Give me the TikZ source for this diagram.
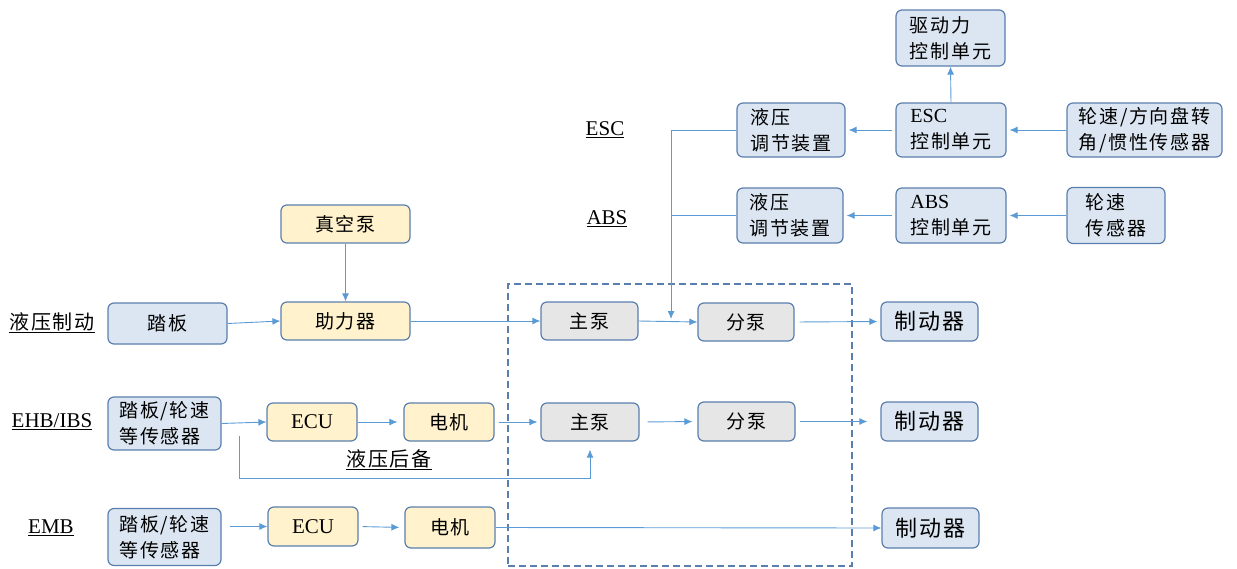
\documentclass[tikz,border=0pt]{standalone}
\usepackage{fontspec}
\setmainfont{Liberation Serif}
\newfontfamily\cjk[LetterSpace=9]{Noto Sans CJK SC}
\usetikzlibrary{arrows.meta}
\definecolor{bfill}{HTML}{DCE6F2}
\definecolor{yfill}{HTML}{FFF2CC}
\definecolor{gfill}{HTML}{E6E6E6}
\definecolor{edgec}{HTML}{5A7FAE}
\definecolor{arrc}{HTML}{5B9BD5}
\definecolor{framec}{HTML}{5A7FAE}
\begin{document}
\begin{tikzpicture}[x=1pt,y=-1pt,
  box/.style={draw=edgec, line width=1.2pt, rounded corners=6pt, inner sep=0pt, anchor=center,
    font=\cjk\fontsize{19}{26}\selectfont, align=left},
  bluebox/.style={box, fill=bfill},
  yellowbox/.style={box, fill=yfill},
  graybox/.style={box, fill=gfill},
  brake/.style={bluebox, font=\cjk\fontsize{22}{26}\selectfont},
  lbl/.style={font=\cjk\fontsize{20}{24}\selectfont, inner sep=0pt},
  conn/.style={draw=arrc, line width=0.9pt, -{Latex[length=8pt,width=7pt]}},
  wire/.style={draw=arrc, line width=0.9pt},
  dashframe/.style={draw=framec, line width=1.2pt, dash pattern=on 7pt off 4pt, inner sep=0pt}
]
\useasboundingbox (0,0) rectangle (1237,568);

% top right
\node[bluebox, minimum width=109, minimum height=56] (drive) at (950.5,38) {驱动力\\控制单元};
\node[bluebox, minimum width=108, minimum height=54] (eschyd) at (791,130) {液压\\调节装置};
\node[bluebox, minimum width=110, minimum height=54] (esccu) at (951,130) {{\rmfamily\fontsize{20}{26}\selectfont ESC}\\控制单元};
\node[bluebox, minimum width=155, minimum height=54] (sens1) at (1144.5,130) {轮速/方向盘转\\角/惯性传感器};
\node[bluebox, minimum width=106, minimum height=55] (abshyd) at (790,215.5) {液压\\调节装置};
\node[bluebox, minimum width=110, minimum height=55] (abscu) at (951,215.5) {{\rmfamily\fontsize{20}{26}\selectfont ABS}\\控制单元};
\node[bluebox, minimum width=98, minimum height=56] (wsens) at (1116,215.5) {轮速\\传感器};

\node[lbl, font=\fontsize{21}{24}\selectfont] (esclbl) at (605,130) {\underline{ESC}};
\node[lbl, font=\fontsize{21}{24}\selectfont] (abslbl) at (607,219) {\underline{ABS}};

% hydraulic row
\node[lbl] (hydlbl) at (52,323) {\underline{液压制动}};
\node[bluebox, minimum width=119, minimum height=41] (pedal) at (167.5,323.5) {踏板};
\node[yellowbox, minimum width=129, minimum height=38] (vac) at (345.5,224) {真空泵};
\node[yellowbox, minimum width=129, minimum height=38] (booster) at (345.5,321) {助力器};

% frame
\node[dashframe, minimum width=344, minimum height=282] (frame) at (680,425) {};

\node[graybox, minimum width=97, minimum height=38] (mp1) at (589.5,321) {主泵};
\node[graybox, minimum width=96, minimum height=38] (sp1) at (746,322) {分泵};
\node[brake, minimum width=97, minimum height=39] (br1) at (929.5,321.5) {制动器};

% EHB row
\node[lbl, font=\fontsize{21}{24}\selectfont] (ehblbl) at (52,422) {\underline{EHB/IBS}};
\node[bluebox, minimum width=113, minimum height=53] (sens2) at (164.5,423.5) {踏板/轮速\\等传感器};
\node[yellowbox, minimum width=90, minimum height=38, font=\fontsize{21}{24}\selectfont] (ecu2) at (312,422) {ECU};
\node[yellowbox, minimum width=90, minimum height=38] (mot2) at (449,422) {电机};
\node[graybox, minimum width=98, minimum height=38] (mp2) at (590,422) {主泵};
\node[graybox, minimum width=97, minimum height=39] (sp2) at (746.5,421.5) {分泵};
\node[brake, minimum width=97, minimum height=39] (br2) at (929.5,421.5) {制动器};
\node[lbl] (bklbl) at (389,460) {\underline{液压后备}};

% EMB row
\node[lbl, font=\fontsize{21}{24}\selectfont] (emblbl) at (51,528) {\underline{EMB}};
\node[bluebox, minimum width=113, minimum height=57] (sens3) at (164.5,537) {踏板/轮速\\等传感器};
\node[yellowbox, minimum width=90, minimum height=39, font=\fontsize{21}{24}\selectfont] (ecu3) at (313,526.5) {ECU};
\node[yellowbox, minimum width=90, minimum height=41] (mot3) at (450,527.5) {电机};
\node[brake, minimum width=97, minimum height=40] (br3) at (930.5,528) {制动器};

% coordinates
\coordinate (jtop) at (671,130);
\coordinate (jabs) at (671,215.5);
\coordinate (jbot) at (671,319);
\coordinate (bk1) at (239,436);
\coordinate (bk2) at (239,478);

% connectors top right
\draw[conn] (esccu.north) -- (drive.south);
\draw[conn, shorten >=3pt] (sens1.west) -- (esccu.east);
\draw[conn, shorten >=3pt, shorten <=3pt] (esccu.west) -- (eschyd.east);
\draw[conn, shorten >=3pt] (wsens.west) -- (abscu.east);
\draw[conn, shorten >=3pt, shorten <=3pt] (abscu.west) -- (abshyd.east);
\draw[wire] (eschyd.west) -- (jtop);
\draw[wire] (abshyd.west) -- (jabs);
\draw[conn] (jtop) -- (jbot);

% hydraulic row
\draw[conn] (vac.south) -- (booster.north);
\draw[conn] (pedal.east) -- (booster.west);
\draw[conn] (booster.east) -- (mp1.west);
\draw[conn] (mp1.east) -- (sp1.west);
\draw[conn, shorten <=5pt, shorten >=3pt] (sp1.east) -- (br1.west);

% EHB row
\draw[conn] (sens2.east) -- (ecu2.west);
\draw[conn, shorten >=6pt] (ecu2.east) -- (mot2.west);
\draw[conn, shorten <=4pt, shorten >=3pt] (mot2.east) -- (mp2.west);
\draw[conn, shorten <=8pt, shorten >=5pt] (mp2.east) -- (sp2.west);
\draw[conn, shorten <=4pt, shorten >=13pt] (sp2.east) -- (br2.west);
\draw[conn, shorten >=8pt] (bk1) -- (bk2) -| (mp2.south);

% EMB row
\draw[conn, shorten <=8pt] (sens3.east |- ecu3.west) -- (ecu3.west);
\draw[conn, shorten <=4pt, shorten >=5pt] (ecu3.east) -- (mot3.west);
\draw[conn] (mot3.east) -- (br3.west);
\end{tikzpicture}
\end{document}
